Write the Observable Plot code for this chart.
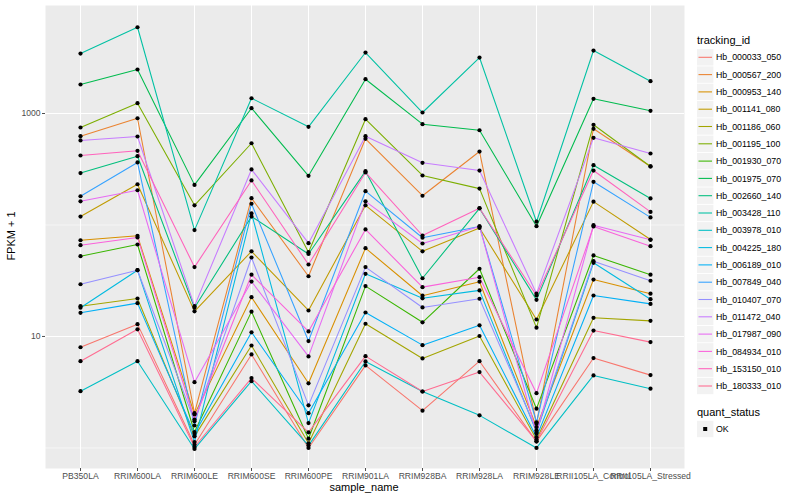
<!DOCTYPE html>
<html><head><meta charset="utf-8">
<script src="https://cdn.jsdelivr.net/npm/d3@7"></script>
<script src="https://cdn.jsdelivr.net/npm/@observablehq/plot@0.6"></script>
<style>
body{margin:0;background:#fff;}
svg{font-family:"Liberation Sans",Arial,Helvetica,sans-serif;}
</style>
</head><body><div id="chart"></div>
<script>
const samples = ["PB350LA","RRIM600LA","RRIM600LE","RRIM600SE","RRIM600PE","RRIM901LA","RRIM928BA","RRIM928LA","RRIM928LE","RRII105LA_Control","RRII105LA_Stressed"];
const trackingIds = ["Hb_000033_050","Hb_000567_200","Hb_000953_140","Hb_001141_080","Hb_001186_060","Hb_001195_100","Hb_001930_070","Hb_001975_070","Hb_002660_140","Hb_003428_110","Hb_003978_010","Hb_004225_180","Hb_006189_010","Hb_007849_040","Hb_010407_070","Hb_011472_040","Hb_017987_090","Hb_084934_010","Hb_153150_010","Hb_180333_010"];
const colors = ["#F8766D","#EA8331","#D89000","#C09B00","#A3A500","#7CAE00","#39B600","#00BB4E","#00BF7D","#00C1A3","#00BFC4","#00BAE0","#00B0F6","#35A2FF","#9590FF","#C77CFF","#E76BF3","#FA62DB","#FF62BC","#FF6C91"];
const yTicks = [10, 1000];
const yMinor = [1, 100];

// FPKM + 1 per sample, in sample order
const Hb_000033_050 = [8.0, 12.9, 1.07, 6.9, 1.0, 5.5, 2.16, 6.0, 1.14, 6.4, 4.5];
const Hb_000567_200 = [626, 907, 2.05, 174, 34.7, 593, 183, 456, 1.65, 729, 335];
const Hb_000953_140 = [73, 80, 2.0, 22.5, 3.8, 62, 23.2, 31, 1.54, 32.4, 24.2];
const Hb_001141_080 = [119, 232, 16.8, 58, 17.1, 150, 58, 94, 14.2, 162, 74];
const Hb_001186_060 = [18.7, 21.9, 1.27, 8.3, 1.10, 13.0, 6.35, 10.1, 1.19, 14.7, 13.8];
const Hb_001195_100 = [749, 1237, 150, 541, 57, 889, 278, 212, 12.0, 792, 335];
const Hb_001930_070 = [52.5, 66.8, 1.39, 16.7, 1.21, 28.3, 13.4, 40.5, 2.25, 53.3, 35.8];
const Hb_001975_070 = [1820, 2483, 229, 1116, 276, 2031, 802, 708, 97.6, 1355, 1057];
const Hb_002660_140 = [292, 414, 18.1, 119, 55, 304, 33.3, 141, 21.3, 344, 173];
const Hb_003428_110 = [3452, 5943, 90, 1371, 760, 3524, 1021, 3178, 107, 3673, 1949];
const Hb_003978_010 = [3.23, 6.0, 0.98, 3.97, 1.05, 5.97, 3.21, 1.96, 1.0, 4.47, 3.40];
const Hb_004225_180 = [18.1, 39.3, 1.13, 127, 1.67, 36.5, 22.0, 25.9, 1.39, 45.8, 21.6];
const Hb_006189_010 = [16.3, 19.9, 1.34, 10.9, 2.05, 16.4, 8.36, 12.6, 1.25, 23.3, 19.6];
const Hb_007849_040 = [181, 364, 1.59, 155, 9.1, 201, 76.8, 97, 1.70, 244, 117];
const Hb_010407_070 = [29.4, 39.3, 1.74, 51.1, 2.41, 41.9, 18.2, 21.8, 1.44, 47.4, 31.6];
const Hb_011472_040 = [573, 622, 18.7, 315, 68.7, 626, 361, 308, 24.2, 605, 438];
const Hb_017987_090 = [163, 205, 3.89, 31.1, 6.62, 163, 68.2, 97, 1.35, 99.6, 73.6];
const Hb_084934_010 = [65.9, 77.3, 1.80, 35.8, 11.1, 91.2, 27.7, 34.0, 3.10, 97, 64.6];
const Hb_153150_010 = [420, 463, 41.9, 251, 44.2, 296, 80.5, 141.5, 23.3, 308, 131];
const Hb_180333_010 = [6.0, 11.6, 1.02, 4.23, 1.38, 6.66, 3.21, 4.79, 1.15, 11.3, 8.9];

const seriesValues = [Hb_000033_050,Hb_000567_200,Hb_000953_140,Hb_001141_080,Hb_001186_060,Hb_001195_100,Hb_001930_070,Hb_001975_070,Hb_002660_140,Hb_003428_110,Hb_003978_010,Hb_004225_180,Hb_006189_010,Hb_007849_040,Hb_010407_070,Hb_011472_040,Hb_017987_090,Hb_084934_010,Hb_153150_010,Hb_180333_010];

const data = [];
trackingIds.forEach((id, i) => seriesValues[i].forEach((v, j) => data.push({tracking_id: id, sample_name: samples[j], fpkm: v, quant_status: "OK"})));

const plot = Plot.plot({
  width: 800, height: 500,
  marginLeft: 45, marginRight: 116, marginTop: 5, marginBottom: 32,
  style: {fontFamily: '"Liberation Sans",Arial,sans-serif', fontSize: "8.6px", background: "white"},
  x: {type: "point", domain: samples, padding: 0.6, label: null},
  y: {type: "log", domain: [0.654, 9310], label: null},
  color: {domain: trackingIds, range: colors},
  marks: [
    Plot.frame({fill: "#EBEBEB", stroke: null}),
    Plot.gridY(yMinor, {stroke: "white", strokeOpacity: 1, strokeWidth: 0.55}),
    Plot.gridY(yTicks, {stroke: "white", strokeOpacity: 1, strokeWidth: 1.07}),
    Plot.gridX(samples, {stroke: "white", strokeOpacity: 1, strokeWidth: 1.07}),
    Plot.line(data, {x: "sample_name", y: "fpkm", z: "tracking_id", stroke: "tracking_id", strokeWidth: 1.07}),
    Plot.dot(data, {x: "sample_name", y: "fpkm", r: 2.1, fill: "black", symbol: "circle"}),
    Plot.axisY(yTicks, {tickSize: 3, tickPadding: 2, tickFormat: d => String(d), color: "#4D4D4D", label: null}),
    Plot.axisX(samples, {tickSize: 3, tickPadding: 1.5, color: "#4D4D4D", label: null})
  ]
});
document.getElementById("chart").appendChild(plot);

const svg = d3.select(plot);
svg.append("text").attr("transform", "translate(15,236) rotate(-90)").attr("text-anchor", "middle")
  .style("font-size", "11px").attr("fill", "black").text("FPKM + 1");
svg.append("text").attr("x", 364).attr("y", 491).attr("text-anchor", "middle")
  .style("font-size", "11px").attr("fill", "black").text("sample_name");

const lg = svg.append("g").attr("text-anchor", "start");
lg.append("text").attr("x", 697).attr("y", 44).attr("text-anchor", "start").style("font-size", "11px").attr("fill", "black").text("tracking_id");
trackingIds.forEach((id, i) => {
  const cy = 57.3 + i * 17.3;
  lg.append("rect").attr("x", 697).attr("y", cy - 8.2).attr("width", 16.4).attr("height", 16.4).attr("fill", "#F2F2F2");
  lg.append("line").attr("x1", 698.5).attr("x2", 712).attr("y1", cy).attr("y2", cy).attr("stroke", colors[i]).attr("stroke-width", 1.07);
  lg.append("text").attr("x", 716).attr("y", cy + 3.1).attr("text-anchor", "start").style("font-size", "8.8px").attr("fill", "black").text(id);
});
lg.append("text").attr("x", 697).attr("y", 416).attr("text-anchor", "start").style("font-size", "11px").attr("fill", "black").text("quant_status");
lg.append("rect").attr("x", 697).attr("y", 429 - 8.2).attr("width", 16.4).attr("height", 16.4).attr("fill", "#F2F2F2");
lg.append("rect").attr("x", 703.2).attr("y", 427).attr("width", 4).attr("height", 4).attr("fill", "black");
lg.append("text").attr("x", 716).attr("y", 432.1).attr("text-anchor", "start").style("font-size", "8.8px").attr("fill", "black").text("OK");
</script>
</body></html>
